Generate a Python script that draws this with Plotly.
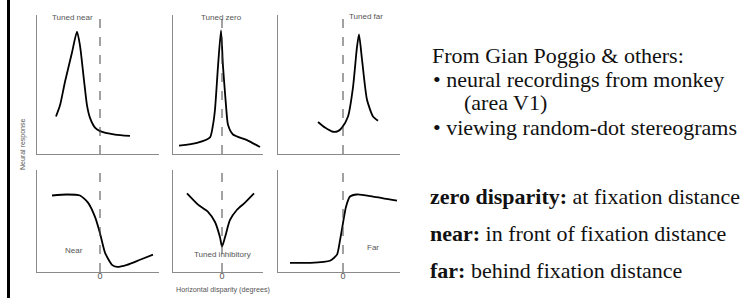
import plotly.graph_objects as go

W, H = 755, 298

# ---- data (disparity in arbitrary units, 0 = fixation; response normalised) ----
near_tuned_x = [-1.1, -1.0, -0.875, -0.7, -0.575, -0.5, -0.4, -0.325, -0.25, -0.125, 0.0, 0.375, 0.75]
near_tuned_y = [0.27, 0.35, 0.52, 0.73, 0.88, 0.78, 0.53, 0.35, 0.26, 0.19, 0.165, 0.14, 0.13]

zero_tuned_x = [-1.075, -0.625, -0.3, -0.225, -0.175, -0.1, -0.025, 0.025, 0.1, 0.15, 0.275, 0.625, 0.95]
zero_tuned_y = [0.06, 0.08, 0.12, 0.21, 0.32, 0.63, 0.89, 0.63, 0.35, 0.21, 0.14, 0.10, 0.05]

far_tuned_x = [-0.625, -0.45, -0.25, -0.125, -0.025, 0.125, 0.25, 0.35, 0.4, 0.475, 0.6, 0.75, 0.875]
far_tuned_y = [0.23, 0.19, 0.16, 0.165, 0.19, 0.27, 0.48, 0.77, 0.86, 0.68, 0.39, 0.27, 0.24]

near_x = [-1.2, -0.825, -0.5, -0.3, -0.125, 0.0, 0.125, 0.3, 0.425, 0.675, 1.0, 1.325]
near_y = [0.75, 0.76, 0.75, 0.68, 0.54, 0.38, 0.19, 0.07, 0.05, 0.07, 0.12, 0.17]

inhib_x = [-0.875, -0.6, -0.35, -0.175, -0.05, 0.0, 0.075, 0.2, 0.375, 0.575, 0.8]
inhib_y = [0.77, 0.66, 0.59, 0.49, 0.34, 0.25, 0.34, 0.51, 0.61, 0.68, 0.77]

far_x = [-1.325, -0.825, -0.325, -0.15, -0.075, 0.0, 0.075, 0.175, 0.35, 0.75, 1.35]
far_y = [0.09, 0.09, 0.11, 0.17, 0.31, 0.48, 0.64, 0.74, 0.76, 0.74, 0.70]

panel_labels = ["Tuned near", "Tuned zero", "Tuned far", "Near", "Tuned inhibitory", "Far"]
label_x = [-0.7, -0.025, 0.575, -0.65, 0.0, 0.75]
label_y = [0.98, 0.98, 0.99, 0.21, 0.17, 0.24]

tick_vals = [0]
tick_text = ["0"]

# ---- layout geometry ----
cols = [(37, 159, 100), (173, 263, 222), (278, 400, 343)]   # px left, right, zero
rows = [(15, 154), (170, 272)]                              # px top, bottom
SC = 40.0

series = [(near_tuned_x, near_tuned_y), (zero_tuned_x, zero_tuned_y), (far_tuned_x, far_tuned_y),
          (near_x, near_y), (inhib_x, inhib_y), (far_x, far_y)]

fig = go.Figure()
layout = {}
shapes = []
annotations = []
for i, (xs, ys) in enumerate(series):
    r, c = divmod(i, 3)
    x0, x1, z = cols[c]
    t, b = rows[r]
    n = i + 1
    xa = "xaxis" if n == 1 else f"xaxis{n}"
    ya = "yaxis" if n == 1 else f"yaxis{n}"
    xr = "x" if n == 1 else f"x{n}"
    yr = "y" if n == 1 else f"y{n}"
    fig.add_trace(go.Scatter(x=xs, y=ys, mode="lines", xaxis=xr, yaxis=yr,
                             line=dict(color="black", width=1.8, shape="spline", smoothing=0.6),
                             showlegend=False, hoverinfo="skip"))
    layout[xa] = dict(domain=[x0 / W, x1 / W], range=[(x0 - z) / SC, (x1 - z) / SC],
                      anchor=yr, showline=True, linecolor="#8a8a8a", linewidth=1,
                      showgrid=False, zeroline=False, ticks="",
                      showticklabels=(r == 1), tickvals=tick_vals, ticktext=tick_text,
                      ticklabelstandoff=-5,
                      tickfont=dict(family="Liberation Sans", size=9, color="#555"))
    layout[ya] = dict(domain=[1 - b / H, 1 - t / H], range=[0, 1], anchor=xr,
                      showline=True, linecolor="#8a8a8a", linewidth=1,
                      showgrid=False, zeroline=False, ticks="", showticklabels=False)
    shapes.append(dict(type="line", xref=xr, yref=f"{yr} domain", x0=0, x1=0, y0=0, y1=1,
                       line=dict(color="#444", width=1, dash="dash")))
    annotations.append(dict(text=panel_labels[i], x=label_x[i], y=label_y[i], xref=xr, yref=yr,
                            xanchor="center", yanchor="middle",
                            showarrow=False, font=dict(family="Liberation Sans", size=8, color="#555")))

# left black bar
shapes.append(dict(type="rect", xref="paper", yref="paper", x0=7 / W, x1=10 / W, y0=0, y1=1,
                   fillcolor="black", line=dict(width=0)))

annotations.append(dict(text="Neural response", x=23 / W, y=1 - 145 / H, xref="paper", yref="paper",
                        xanchor="center", yanchor="middle", textangle=-90, showarrow=False,
                        font=dict(family="Liberation Sans", size=7, color="#555")))
annotations.append(dict(text="Horizontal disparity (degrees)", x=223 / W, y=1 - 289 / H,
                        xref="paper", yref="paper", xanchor="center", yanchor="middle",
                        showarrow=False,
                        font=dict(family="Liberation Sans", size=7.2, color="#555")))

serif = "Liberation Serif"
right_lines = [
    ("From Gian Poggio &amp; others:", 430, 55),
    ("• neural recordings from monkey", 431, 79),
    ("(area V1)", 462, 102),
    ("• viewing random-dot stereograms", 431, 127),
    ("<b>zero disparity:</b> at fixation distance", 428, 196),
    ("<b>near:</b> in front of fixation distance", 428, 233),
    ("<b>far:</b> behind fixation distance", 428, 270),
]
for txt, px, py in right_lines:
    annotations.append(dict(text=txt, x=px / W, y=1 - py / H, xref="paper", yref="paper",
                            xanchor="left", yanchor="middle", showarrow=False,
                            font=dict(family=serif, size=22, color="#111")))

fig.update_layout(width=W, height=H, margin=dict(l=0, r=0, t=0, b=0),
                  paper_bgcolor="white", plot_bgcolor="white",
                  shapes=shapes, annotations=annotations, **layout)
fig.write_html("out.html", config={"displayModeBar": False},
               post_script="document.body.style.margin='0';document.body.style.padding='0';")
